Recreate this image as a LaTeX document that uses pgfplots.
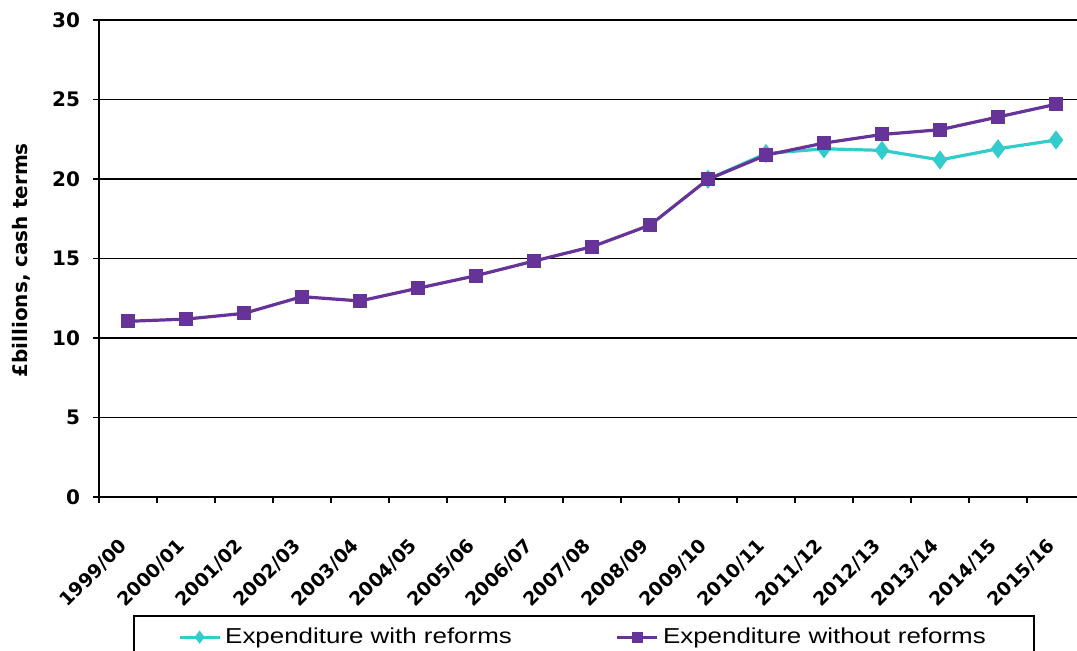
\documentclass[border=0pt]{standalone}
\usepackage{fontspec}
\setmainfont{DejaVu Sans}
\newfontfamily\legfont[FakeStretch=1.2]{Liberation Sans}
\newfontfamily\tickfont{DejaVu Sans}
\usepackage{pgfplots}
\pgfplotsset{compat=1.18}
\definecolor{cyanr}{RGB}{51,204,204}
\definecolor{purpr}{RGB}{102,51,153}
\pgfplotstableread{
x y
10 19.98
11 21.6
12 21.9
13 21.8
14 21.2
15 21.9
16 22.45
}\withreforms
\pgfplotstableread{
x y
0 11.05
1 11.19
2 11.55
3 12.6
4 12.33
5 13.13
6 13.92
7 14.84
8 15.74
9 17.1
10 19.98
11 21.5
12 22.26
13 22.8
14 23.1
15 23.9
16 24.7
}\withoutreforms
\begin{document}
\begin{tikzpicture}
\begin{axis}[
  at={(49.5pt,76.5pt)}, anchor=south west,
  scale only axis, width=493pt, height=238.5pt,
  xmin=-0.5, xmax=16.5, ymin=0, ymax=30,
  ytick={0,5,...,30},
  xtick={0,...,16},
  xticklabels={1999/00,2000/01,2001/02,2002/03,2003/04,2004/05,2005/06,2006/07,2007/08,2008/09,2009/10,2010/11,2011/12,2012/13,2013/14,2014/15,2015/16},
  minor xtick={-0.5,0.5,...,16.5},
  xtick pos=bottom, ytick pos=left,
  tick align=outside,
  major tick length=3pt, minor tick length=3pt,
  major x tick style={draw=none},
  every tick/.style={black, line width=0.8pt},
  minor x tick style={black, line width=0.8pt},
  ymajorgrids,
  major grid style={black, line width=0.9pt},
  axis line style={black, line width=1pt},
  /pgf/number format/assume math mode=true,
  y tick label style={font=\tickfont\bfseries\fontsize{10}{12}\selectfont, xshift=-3pt},
  x tick label style={font=\tickfont\bfseries\fontsize{9.4}{11}\selectfont, inner sep=0pt, xshift=-5pt, yshift=-17pt, rotate=45, anchor=north east},
  ylabel={£billions, cash terms},
  ylabel style={font=\tickfont\bfseries\fontsize{10}{12}\selectfont, at={(axis description cs:-0.079,0.496)}, anchor=center, rotate=0},
  legend columns=2,
  legend style={at={(axis description cs:0.0345,-0.247)}, anchor=north west, draw=black, line width=1pt, font=\legfont\fontsize{10.8}{13}\selectfont, inner xsep=22pt, inner ysep=4pt, /tikz/every even column/.append style={column sep=50pt}},
  legend image code/.code={\draw[#1, mark=none, line width=1.6pt] (0pt,0pt) -- (20pt,0pt);\path[#1, mark size=2pt] plot coordinates {(10pt,0pt)};},
]
\addplot[color=cyanr, line width=1.6pt, mark=diamond*, mark size=3.5pt, mark options={solid, fill=cyanr}] table[x=x,y=y] {\withreforms};
\addlegendentry{Expenditure with reforms}
\addplot[color=purpr, line width=1.6pt, mark=square*, mark size=2.7pt, mark options={solid, fill=purpr}] table[x=x,y=y] {\withoutreforms};
\addlegendentry{Expenditure without reforms\hspace{11pt}}
\end{axis}
\pgfresetboundingbox
\useasboundingbox (0pt,0pt) rectangle (538.5pt,325pt);
\end{tikzpicture}
\end{document}
